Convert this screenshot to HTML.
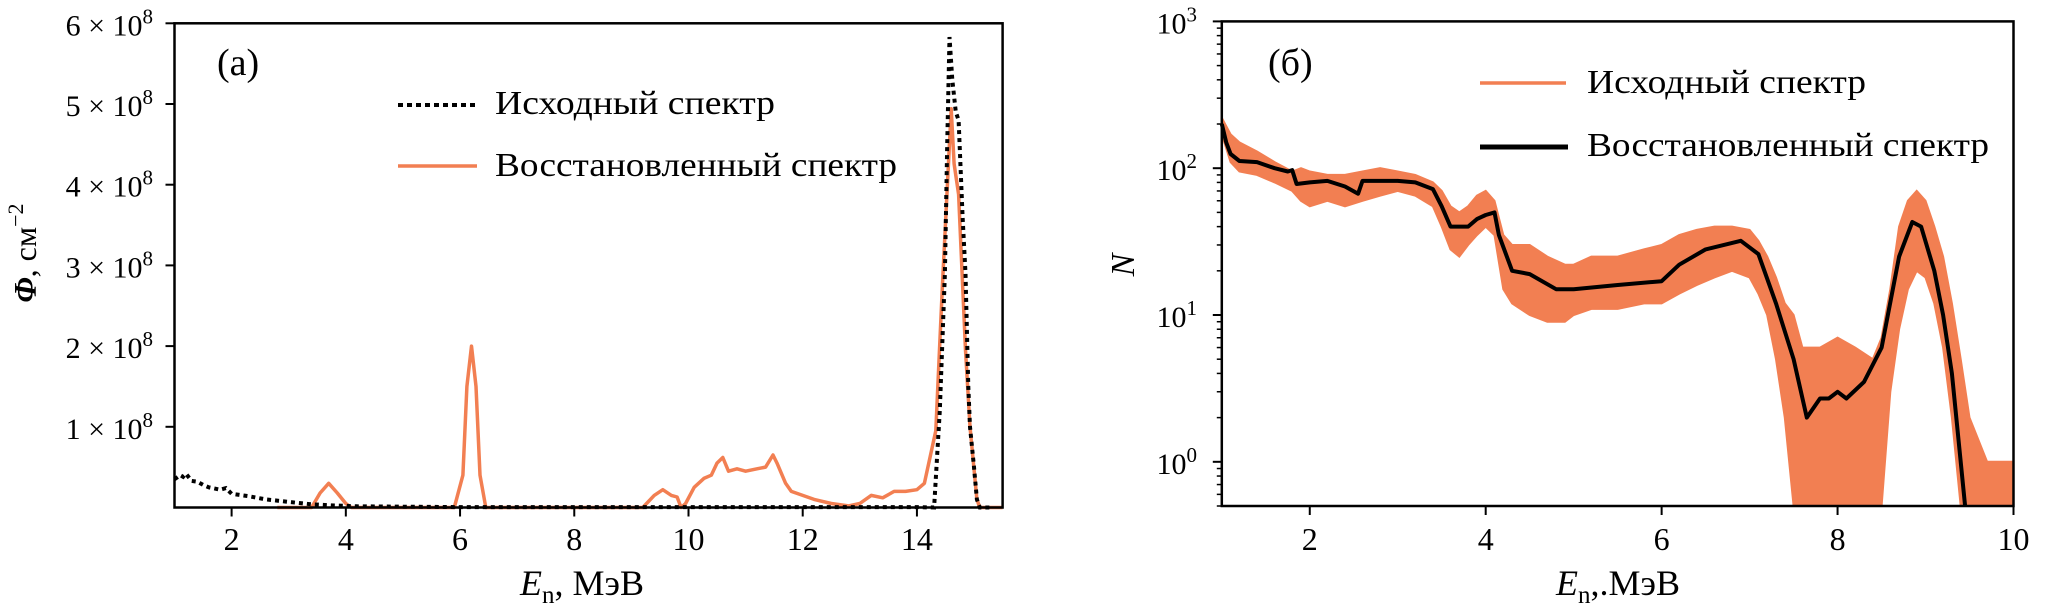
<!DOCTYPE html>
<html><head><meta charset="utf-8"><style>
html,body{margin:0;padding:0;background:#fff;}
svg{display:block;}
text{font-family:"Liberation Serif",serif;fill:#000;}
</style></head><body>
<svg id="chart" width="2046" height="610" viewBox="0 0 2046 610" xmlns="http://www.w3.org/2000/svg">
<g id="left"></g>
<g id="right"></g>
</svg>
<script>
// ---- Panel (a) data (units of 1e8 cm^-2) ----
const aOrigE = [1.0,1.1,1.15,1.2,1.3,1.4,1.5,1.6,1.8,1.9,2.0,2.3,2.6,3.0,3.4,3.8,4.2,5,6,8,10,12,13,14,14.3,14.4,14.49,14.53,14.57,14.62,14.68,14.73,14.8,14.85,14.9,14.93,15.0,15.05,15.1,15.3];
const aOrigV = [0.35,0.40,0.38,0.42,0.33,0.32,0.28,0.25,0.22,0.24,0.17,0.14,0.10,0.07,0.04,0.025,0.015,0.01,0.005,0.005,0.005,0.005,0.005,0.005,0.0,1.2,2.9,4.5,5.83,5.3,4.9,4.8,3.6,2.9,1.5,1.0,0.5,0.1,0.0,0.0];
const aRecE = [2.8,3.4,3.55,3.7,3.85,4.0,4.1,5.9,6.05,6.12,6.2,6.28,6.35,6.45,9.2,9.4,9.55,9.7,9.8,9.87,9.95,10.1,10.27,10.4,10.5,10.6,10.7,10.85,11.0,11.2,11.35,11.48,11.55,11.7,11.8,12.0,12.2,12.5,12.8,13.0,13.2,13.4,13.6,13.8,14.0,14.13,14.33,14.45,14.6,14.65,14.73,14.85,14.93,15.05,15.1,15.5];
const aRecV = [0.0,0.0,0.18,0.3,0.18,0.05,0.0,0.0,0.4,1.5,2.0,1.5,0.4,0.0,0.0,0.15,0.22,0.15,0.13,0.0,0.05,0.25,0.36,0.4,0.55,0.62,0.45,0.48,0.45,0.48,0.5,0.65,0.55,0.3,0.2,0.15,0.1,0.05,0.02,0.05,0.15,0.12,0.2,0.2,0.22,0.3,0.95,2.8,4.94,4.26,3.88,1.95,1.0,0.1,0.0,0.0];
const aXTicks = [2,4,6,8,10,12,14];
const aYTicks = [1,2,3,4,5,6];

// ---- Panel (b) data ----
const bBandE = [1.0,1.1,1.2,1.4,1.6,1.8,1.9,2.0,2.2,2.4,2.6,2.8,3.0,3.2,3.4,3.5,3.6,3.7,3.8,3.9,4.0,4.1,4.2,4.3,4.5,4.7,4.9,5.0,5.2,5.5,5.8,6.0,6.2,6.4,6.6,6.8,7.0,7.1,7.2,7.3,7.4,7.5,7.6,7.8,8.0,8.2,8.4,8.5,8.6,8.7,8.8,8.9,9.0,9.1,9.2,9.3,9.4,9.5,9.7,10.0];
const bBandHi = [220,170,150,130,110,95,100,95,90,90,95,100,95,90,80,70,55,50,55,65,70,60,35,30,30,25,22,22,25,25,28,30,35,38,40,40,38,32,25,18,12,10,6,6,7,6,5,7,15,40,60,70,60,40,25,12,5,2,1,1];
const bBandLo = [170,110,95,90,80,70,60,55,60,55,60,65,70,65,55,40,28,25,30,35,40,35,15,12,10,9,9,10,11,11,12,12,14,16,18,20,18,14,10,5,2,0.5,0.5,0.5,0.5,0.5,0.5,0.5,3,8,15,20,18,12,6,2,0.5,0.5,0.5,0.5];
const bRecE = [1.0,1.05,1.1,1.2,1.4,1.6,1.75,1.8,1.85,2.0,2.2,2.4,2.55,2.6,3.0,3.2,3.4,3.5,3.6,3.8,3.9,4.0,4.1,4.15,4.3,4.5,4.8,5.0,5.5,6.0,6.2,6.5,6.9,7.1,7.3,7.5,7.65,7.8,7.9,8.0,8.1,8.3,8.5,8.7,8.85,8.95,9.1,9.2,9.3,9.4,9.45];
const bRecV = [200,150,125,112,110,100,95,97,78,80,82,75,67,82,82,80,72,55,40,40,45,48,50,35,20,19,15,15,16,17,22,28,32,26,12,5,2.0,2.7,2.7,3.0,2.7,3.5,6,25,43,40,20,10,4,1,0.5];
const bXTicks = [2,4,6,8,10];
const bYTicks = [0,1,2,3];

const NS = "http://www.w3.org/2000/svg";
const ORANGE = "#f27f52";
function mk(parent, tag, attrs){const e=document.createElementNS(NS,tag);for(const k in attrs)e.setAttribute(k,attrs[k]);parent.appendChild(e);return e;}

// ---- Panel (a) ----
const L = document.getElementById('left');
const aX0=174.5,aX1=1002.6,aY0=507.5,aY1=23.3;
const ax = e => aX0+(e-1)/(15.5-1)*(aX1-aX0);
const ay = v => aY0+(v/6)*(aY1-aY0);

let p = aRecE.map((e,i)=>ax(e).toFixed(1)+','+ay(aRecV[i]).toFixed(1)).join(' ');
let rec = mk(L,'polyline',{points:p,fill:'none',stroke:ORANGE,'stroke-width':3.5,'stroke-linejoin':'round'});


p = aOrigE.map((e,i)=>ax(e).toFixed(1)+','+ay(aOrigV[i]).toFixed(1)).join(' ');
let orig = mk(L,'polyline',{points:p,fill:'none',stroke:'#000','stroke-width':4,'stroke-dasharray':'4,4'});



let fr = mk(L,'rect',{x:aX0,y:aY1,width:aX1-aX0,height:aY0-aY1,fill:'none',stroke:'#000','stroke-width':2.5});



aXTicks.forEach(t=>{
  const x=ax(t);
  mk(L,'line',{x1:x,y1:aY0,x2:x,y2:aY0+9,stroke:'#000','stroke-width':2});
  const tx=mk(L,'text',{x:x,y:550,'font-size':32,'text-anchor':'middle'});tx.textContent=t;
  
  
});
aYTicks.forEach(t=>{
  const y=ay(t);
  mk(L,'line',{x1:aX0-9,y1:y,x2:aX0,y2:y,stroke:'#000','stroke-width':2});
  const tx=mk(L,'text',{x:153,y:y+12,'font-size':30,'text-anchor':'end'});
  tx.innerHTML=t+' × 10<tspan dy="-12" font-size="21">8</tspan>';
  
  
});

// ---- Panel (b) ----
const R = document.getElementById('right');
const bX0=1221.8,bX1=2013.5,bY0=506,bY1=21.4,lmin=Math.log10(0.5),lmax=3;
const bx = e => bX0+(e-1)/9*(bX1-bX0);
const by = v => bY0+(Math.log10(Math.max(v,0.5))-lmin)/(lmax-lmin)*(bY1-bY0);

let band = bBandE.map((e,i)=>bx(e).toFixed(1)+','+by(bBandHi[i]).toFixed(1));
for(let i=bBandE.length-1;i>=0;i--) band.push(bx(bBandE[i]).toFixed(1)+','+by(bBandLo[i]).toFixed(1));
let bp = mk(R,'polygon',{points:band.join(' '),fill:ORANGE,stroke:ORANGE,'stroke-width':2});


p = bRecE.map((e,i)=>bx(e).toFixed(1)+','+by(bRecV[i]).toFixed(1)).join(' ');
let br = mk(R,'polyline',{points:p,fill:'none',stroke:'#000','stroke-width':4,'stroke-linejoin':'round'});



let fr2 = mk(R,'rect',{x:bX0,y:bY1,width:bX1-bX0,height:bY0-bY1,fill:'none',stroke:'#000','stroke-width':2.5});



bXTicks.forEach(t=>{
  const x=bx(t);
  mk(R,'line',{x1:x,y1:bY0,x2:x,y2:bY0+9,stroke:'#000','stroke-width':2});
  const tx=mk(R,'text',{x:x,y:550,'font-size':32,'text-anchor':'middle'});tx.textContent=t;
  
  
});
bYTicks.forEach(t=>{
  const y=by(Math.pow(10,t));
  mk(R,'line',{x1:bX0-9,y1:y,x2:bX0,y2:y,stroke:'#000','stroke-width':2});
  const tx=mk(R,'text',{x:1197,y:y+12,'font-size':30,'text-anchor':'end'});
  tx.innerHTML='10<tspan dy="-12" font-size="21">'+t+'</tspan>';
  
  
});
for(let d=-1;d<3;d++){for(let m=2;m<10;m++){const v=m*Math.pow(10,d);if(v<0.5)continue;const y=by(v);
  mk(R,'line',{x1:bX0-5,y1:y,x2:bX0,y2:y,stroke:'#000','stroke-width':1.5});}}
</script>
<svg width="2046" height="610" style="position:absolute;left:0;top:0" xmlns="http://www.w3.org/2000/svg">
<text x="217" y="75" font-size="38">(a)</text>
<line x1="398" y1="105" x2="477" y2="105" stroke="#000" stroke-width="4" stroke-dasharray="5,4"/>
<text x="495" y="114" font-size="34" textLength="280" lengthAdjust="spacingAndGlyphs">Исходный спектр</text>
<line x1="398" y1="166" x2="477" y2="166" stroke="#f27f52" stroke-width="3.5"/>
<text x="495" y="176" font-size="34" textLength="402" lengthAdjust="spacingAndGlyphs">Восстановленный спектр</text>
<text transform="translate(36,253) rotate(-90)" font-size="32" text-anchor="middle"><tspan font-weight="bold" font-style="italic">Φ</tspan>, см<tspan dy="-13" font-size="22">−2</tspan></text>
<text x="582" y="595" font-size="36" text-anchor="middle"><tspan font-style="italic">E</tspan><tspan dy="8" font-size="25">n</tspan><tspan dy="-8">, МэВ</tspan></text>

<text x="1268" y="75" font-size="38">(б)</text>
<line x1="1480" y1="83" x2="1566" y2="83" stroke="#f27f52" stroke-width="3.5"/>
<text x="1587" y="93" font-size="34" textLength="279" lengthAdjust="spacingAndGlyphs">Исходный спектр</text>
<line x1="1480" y1="147" x2="1568" y2="147" stroke="#000" stroke-width="5"/>
<text x="1587" y="156" font-size="34" textLength="402" lengthAdjust="spacingAndGlyphs">Восстановленный спектр</text>
<text transform="translate(1134,265) rotate(-90)" font-size="34" font-style="italic" text-anchor="middle">N</text>
<text x="1618" y="595" font-size="36" text-anchor="middle"><tspan font-style="italic">E</tspan><tspan dy="8" font-size="25">n</tspan><tspan dy="-8">,.МэВ</tspan></text>
</svg>
</body></html>
